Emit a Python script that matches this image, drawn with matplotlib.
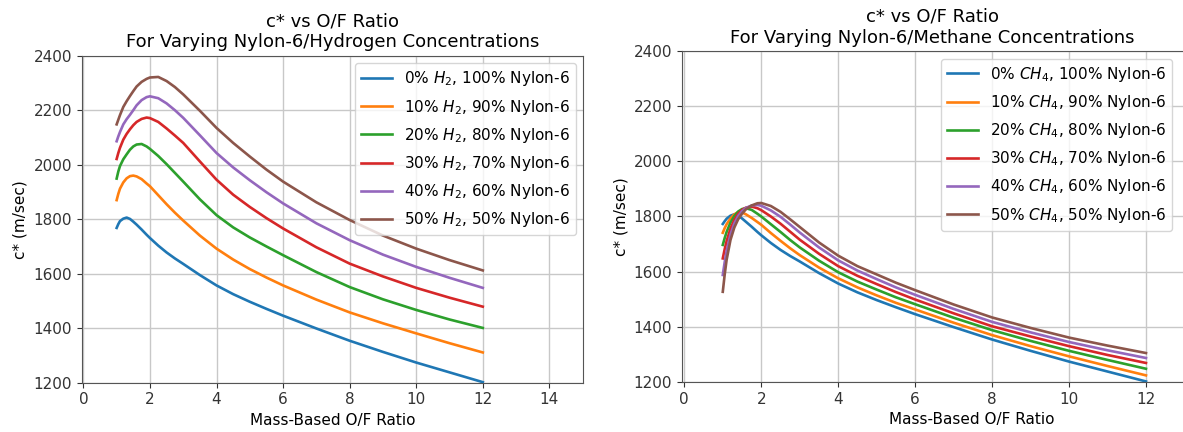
import matplotlib
matplotlib.use("Agg")
import matplotlib.pyplot as plt

# ---- data ----
of_ratio = [1.0, 1.05, 1.1, 1.2, 1.3, 1.4, 1.5, 1.6, 1.75, 1.9, 2.0, 2.25, 2.5, 2.75,
            3.0, 3.5, 4.0, 4.5, 5.0, 5.5, 6.0, 7.0, 8.0, 9.0, 10.0, 11.0, 12.0]

h2_0 = [1768, 1782, 1793, 1802, 1806, 1801, 1791, 1780, 1762, 1743, 1731, 1703, 1678, 1656,
        1636, 1595, 1557, 1525, 1497, 1471, 1446, 1399, 1354, 1313, 1274, 1238, 1202]
h2_10 = [1870, 1893, 1912, 1935, 1950, 1958, 1960, 1957, 1947, 1931, 1921, 1888, 1855, 1824,
         1795, 1740, 1692, 1652, 1617, 1586, 1557, 1505, 1458, 1418, 1381, 1345, 1311]
h2_20 = [1949, 1975, 1995, 2020, 2038, 2055, 2067, 2074, 2076, 2067, 2058, 2032, 2002, 1970,
         1938, 1873, 1815, 1770, 1733, 1700, 1668, 1606, 1551, 1506, 1467, 1432, 1401]
h2_30 = [2021, 2043, 2062, 2092, 2113, 2130, 2145, 2157, 2168, 2173, 2171, 2157, 2133, 2107,
         2080, 2012, 1945, 1890, 1845, 1804, 1766, 1697, 1637, 1590, 1548, 1512, 1479]
h2_40 = [2086, 2104, 2120, 2148, 2167, 2183, 2200, 2218, 2237, 2248, 2251, 2244, 2225, 2200,
         2172, 2108, 2043, 1990, 1943, 1899, 1858, 1785, 1723, 1670, 1625, 1585, 1548]
h2_50 = [2148, 2165, 2182, 2212, 2233, 2252, 2270, 2287, 2304, 2315, 2320, 2322, 2307, 2285,
         2258, 2198, 2135, 2080, 2030, 1982, 1938, 1862, 1797, 1740, 1692, 1650, 1612]

ch4_0 = [1773, 1783, 1792, 1803, 1808, 1803, 1793, 1781, 1763, 1744, 1732, 1704, 1679, 1657,
         1637, 1595, 1557, 1525, 1497, 1471, 1446, 1399, 1354, 1313, 1274, 1238, 1202]
ch4_10 = [1741, 1758, 1772, 1793, 1808, 1816, 1815, 1808, 1795, 1780, 1770, 1740, 1712, 1685,
          1660, 1615, 1576, 1543, 1514, 1487, 1463, 1415, 1370, 1330, 1293, 1258, 1224]
ch4_20 = [1697, 1722, 1744, 1778, 1802, 1818, 1827, 1830, 1824, 1810, 1800, 1772, 1744, 1715,
          1688, 1640, 1598, 1564, 1535, 1507, 1482, 1433, 1388, 1349, 1313, 1280, 1248]
ch4_30 = [1648, 1682, 1711, 1756, 1788, 1810, 1824, 1832, 1836, 1830, 1823, 1800, 1774, 1745,
          1716, 1665, 1620, 1585, 1555, 1526, 1499, 1449, 1402, 1365, 1330, 1298, 1269]
ch4_40 = [1588, 1635, 1675, 1735, 1775, 1802, 1819, 1831, 1840, 1842, 1839, 1822, 1799, 1771,
          1742, 1688, 1641, 1604, 1573, 1543, 1516, 1465, 1418, 1380, 1345, 1315, 1287]
ch4_50 = [1527, 1590, 1643, 1715, 1760, 1790, 1810, 1826, 1840, 1848, 1849, 1838, 1817, 1790,
          1762, 1706, 1658, 1620, 1590, 1560, 1533, 1481, 1434, 1396, 1361, 1332, 1305]

h2_labels = ["0% $H_2$, 100% Nylon-6", "10% $H_2$, 90% Nylon-6", "20% $H_2$, 80% Nylon-6",
             "30% $H_2$, 70% Nylon-6", "40% $H_2$, 60% Nylon-6", "50% $H_2$, 50% Nylon-6"]
ch4_labels = ["0% $CH_4$, 100% Nylon-6", "10% $CH_4$, 90% Nylon-6", "20% $CH_4$, 80% Nylon-6",
              "30% $CH_4$, 70% Nylon-6", "40% $CH_4$, 60% Nylon-6", "50% $CH_4$, 50% Nylon-6"]

yticks = [1200, 1400, 1600, 1800, 2000, 2200, 2400]
xticks_left = [0, 2, 4, 6, 8, 10, 12, 14]
xticks_right = [0, 2, 4, 6, 8, 10, 12]

plt.rcParams['font.family'] = ['DejaVu Sans']
plt.rcParams['font.size'] = 11

fig = plt.figure(figsize=(11.83, 4.32), dpi=100)
W, H = 1183, 432
ax1 = fig.add_axes([81.7 / W, (H - 382.7) / H, 501.6 / W, 327 / H])
ax2 = fig.add_axes([682 / W, (H - 382) / H, 579.4 / W, 331 / H])

for ys, lab in zip([h2_0, h2_10, h2_20, h2_30, h2_40, h2_50], h2_labels):
    ax1.plot(of_ratio, ys, label=lab, lw=1.9)
for ys, lab in zip([ch4_0, ch4_10, ch4_20, ch4_30, ch4_40, ch4_50], ch4_labels):
    ax2.plot(of_ratio, ys, label=lab, lw=1.9)

ax1.set_xlim(-0.05, 15.02)
ax2.set_xlim(-0.06, 15.0)
ax1.set_xticks(xticks_left)
ax2.set_xticks(xticks_right)
ax1.set_title("c* vs O/F Ratio\nFor Varying Nylon-6/Hydrogen Concentrations", fontsize=13)
ax2.set_title("c* vs O/F Ratio\nFor Varying Nylon-6/Methane Concentrations", fontsize=13,
              x=(1183 - 682) / 2 / 579.4)
for ax in (ax1, ax2):
    ax.set_ylim(1200, 2400)
    ax.set_yticks(yticks)
    ax.grid(True, color='#c8c8c8', lw=1.0)
    ax.set_xlabel("Mass-Based O/F Ratio")
    ax.set_ylabel("c* (m/sec)")
    ax.tick_params(colors='#333333')
    for s in ax.spines.values():
        s.set_color('#555555')

ax1.legend(loc='upper right', labelspacing=0.6)
ax2.legend(loc='upper right', labelspacing=0.6, bbox_to_anchor=((1180 - 682) / 579.4, 1.0))

fig.savefig("out.png", dpi=100)
